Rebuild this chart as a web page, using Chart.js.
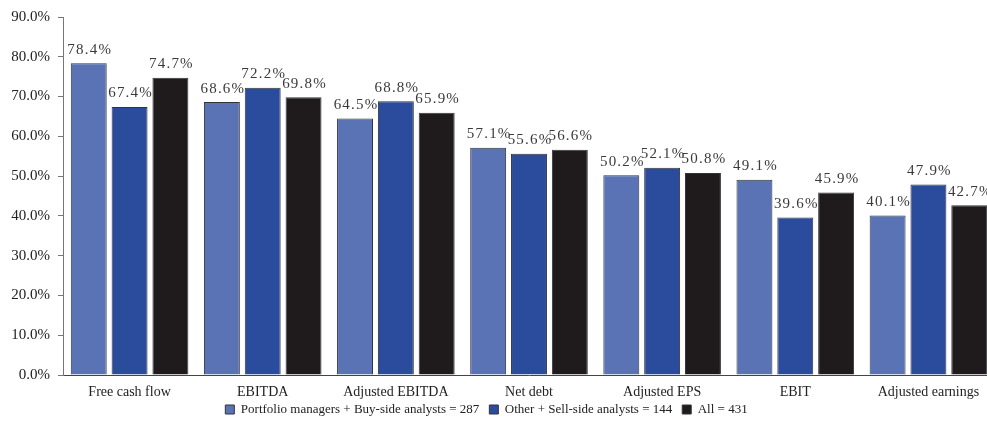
<!DOCTYPE html>
<html>
<head>
<meta charset="utf-8">
<script src="https://cdn.jsdelivr.net/npm/chart.js@4/dist/chart.umd.min.js"></script>
<style>
  html, body { margin: 0; padding: 0; background: #fff; overflow: hidden; }
  #wrap { position: relative; width: 995px; height: 430px; }
</style>
</head>
<body>
<div id="wrap"><canvas id="c"></canvas></div>
<script>
const categories = ["Free cash flow", "EBITDA", "Adjusted EBITDA", "Net debt", "Adjusted EPS", "EBIT", "Adjusted earnings"];
const seriesNames = ["Portfolio managers + Buy-side analysts = 287", "Other + Sell-side analysts = 144", "All = 431"];
const portfolioBuySide = [78.4, 68.6, 64.5, 57.1, 50.2, 49.1, 40.1];
const otherSellSide = [67.4, 72.2, 68.8, 55.6, 52.1, 39.6, 47.9];
const allRespondents = [74.7, 69.8, 65.9, 56.6, 50.8, 45.9, 42.7];
const yTicks = [0, 10, 20, 30, 40, 50, 60, 70, 80, 90];

const colors = ["#5a73b4", "#2b4c9c", "#1f1b1d"];
const serif = "'Liberation Serif', 'Times New Roman', serif";

const valueLabels = {
  id: 'valueLabels',
  afterDatasetsDraw(chart) {
    const ctx = chart.ctx;
    ctx.save();
    ctx.font = "15px " + serif;
    try { ctx.letterSpacing = "1.2px"; } catch (e) {}
    ctx.fillStyle = "#3a3a3a";
    ctx.textAlign = "center";
    ctx.textBaseline = "bottom";
    chart.data.datasets.forEach((ds, i) => {
      const meta = chart.getDatasetMeta(i);
      meta.data.forEach((el, j) => {
        ctx.fillText(ds.data[j].toFixed(1) + "%", el.x + 1, el.y - 6);
      });
    });
    ctx.restore();
  }
};

// keep the legend box a fixed height and nudge it up/left to sit like the original
const legendPlacer = {
  id: 'legendPlacer',
  afterInit(chart) {
    const lg = chart.legend;
    if (!lg) return;
    const origFit = lg.fit.bind(lg);
    lg.fit = function () { origFit(); this.height = 29; };
  },
  afterLayout(chart) {
    const lg = chart.legend;
    if (!lg) return;
    const dy = -8, dx = -11;
    lg.top += dy; lg.bottom += dy;
    lg.left += dx; lg.right += dx;
  }
};

new Chart(document.getElementById('c'), {
  type: 'bar',
  data: {
    labels: categories,
    datasets: [
      { label: seriesNames[0], data: portfolioBuySide, backgroundColor: colors[0] },
      { label: seriesNames[1], data: otherSellSide, backgroundColor: colors[1] },
      { label: seriesNames[2], data: allRespondents, backgroundColor: colors[2] }
    ].map(d => Object.assign(d, { borderColor: "#33333a", borderWidth: 1, categoryPercentage: 0.92, barPercentage: 0.88 }))
  },
  options: {
    responsive: true,
    maintainAspectRatio: false,
    animation: false,
    layout: { padding: { top: 16, left: 0, right: 0, bottom: 0 } },
    plugins: {
      tooltip: { enabled: false },
      legend: {
        position: 'bottom',
        labels: {
          font: { family: serif, size: 13 },
          color: "#222",
          boxWidth: 9,
          boxHeight: 9,
          padding: 10
        }
      }
    },
    scales: {
      x: {
        grid: { display: false, drawTicks: false },
        border: { display: true, color: "#444", width: 1 },
        afterFit: s => { s.height = 26; },
        ticks: { font: { family: serif, size: 14 }, color: "#222", padding: 9, maxRotation: 0 }
      },
      y: {
        min: 0, max: 90,
        afterBuildTicks: s => { s.ticks = yTicks.map(v => ({ value: v })); },
        afterFit: s => { s.width = 63; },
        grid: { drawOnChartArea: false, drawTicks: true, tickLength: 5, color: "#777" },
        border: { display: true, color: "#777", width: 1 },
        ticks: {
          font: { family: serif, size: 15 },
          color: "#222",
          padding: 8,
          callback: v => v.toFixed(1) + "%"
        }
      }
    }
  },
  plugins: [valueLabels, legendPlacer]
});
</script>
</body>
</html>
